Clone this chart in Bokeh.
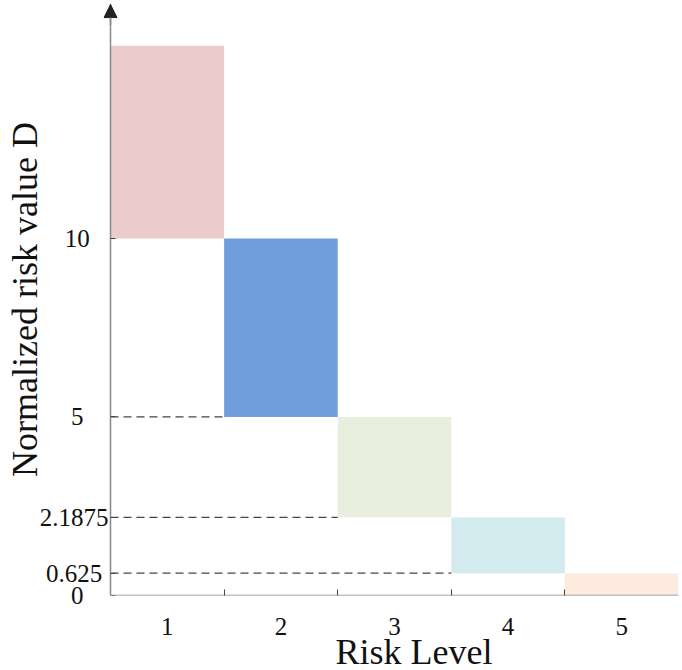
from bokeh.plotting import figure
from bokeh.models import FixedTicker, Range1d, Arrow, NormalHead, LinearAxis, Title, ColumnDataSource
from bokeh.embed import file_html
from bokeh.resources import INLINE

levels = [1, 2, 3, 4, 5]
lower = [10, 5, 2.1875, 0.625, 0]
upper = [15.4, 10, 5, 2.1875, 0.625]
colors = ["#EBCCCB", "#6F9EDB", "#EAEEDF", "#D3EAEE", "#FDEBDF"]
ytick_vals = [0, 0.625, 2.1875, 5, 10]
ytick_labels = ["0", "0.625", "2.1875", "5", "10"]
dash_levels = [5, 2.1875, 0.625]
dash_ends = [1.5, 2.5, 3.5]
y_top = 16.58

FONT = "Liberation Serif"
NB = "\u00a0"
pad = {"0": 4, "0.625": 1, "2.1875": 0, "5": 4, "10": 3}

x0 = levels[0] - 0.5
x1 = levels[-1] + 0.5
p = figure(width=682, height=670, output_backend="svg", toolbar_location=None,
           x_range=Range1d(x0 - 7 / 113.6, x1), y_range=Range1d(0, y_top),
           min_border_left=103, min_border_right=4, min_border_top=3, min_border_bottom=75)
p.outline_line_color = None
p.xgrid.grid_line_color = None
p.ygrid.grid_line_color = None

src = ColumnDataSource(dict(
    left=[l - 0.5 for l in levels], right=[l + 0.5 for l in levels],
    bottom=lower, top=upper, color=colors))
p.quad(left="left", right="right", bottom="bottom", top="top",
       fill_color="color", line_color=None, source=src)

for yv, xe in zip(dash_levels, dash_ends):
    p.line([x0, xe], [yv, yv], line_color="#444444", line_width=1.3, line_dash="8 5")

# x axis baseline from the y axis to the right end
p.segment(x0=[x0], y0=[0], x1=[x1], y1=[0], line_color="#888888", line_width=1.5)

# x axis (labels at level centres, ticks at level boundaries)
xa = p.xaxis[0]
xa.ticker = FixedTicker(ticks=levels, minor_ticks=[l + 0.5 for l in levels[:-1]])
xa.major_tick_line_color = None
xa.major_tick_out = 0
xa.major_tick_in = 0
xa.minor_tick_in = 6
xa.minor_tick_out = 0
xa.minor_tick_line_color = "#444444"
xa.axis_line_color = None
xa.major_label_text_font = FONT
xa.major_label_text_font_size = "25px"
xa.major_label_text_color = "#111111"
xa.major_label_standoff = 22

# left panel axis: tick labels and axis title only
ya = p.yaxis[0]
ya.ticker = FixedTicker(ticks=ytick_vals, minor_ticks=[])
ya.major_label_overrides = {v: s + NB * pad[s] for v, s in zip(ytick_vals, ytick_labels)}
ya.major_tick_line_color = None
ya.minor_tick_line_color = None
ya.major_tick_out = 0
ya.major_tick_in = 0
ya.minor_tick_out = 0
ya.minor_tick_in = 0
ya.axis_line_color = None
ya.major_label_text_font = FONT
ya.major_label_text_font_size = "25px"
ya.major_label_text_color = "#111111"
ya.major_label_standoff = -5
ya.axis_label = "Normalized risk value D"
ya.axis_label_text_font = FONT
ya.axis_label_text_font_size = "36px"
ya.axis_label_text_font_style = "normal"
ya.axis_label_text_color = "#111111"
ya.axis_label_standoff = -8

# y axis line with inward ticks, at x = x0
ya2 = LinearAxis(fixed_location=x0, ticker=FixedTicker(ticks=ytick_vals, minor_ticks=[]),
                 major_label_overrides={v: "" for v in ytick_vals},
                 major_label_text_font_size="0px", major_label_standoff=0,
                 axis_label_standoff=0,
                 major_tick_in=5, major_tick_out=0, major_tick_line_color="#444444",
                 minor_tick_line_color=None, minor_tick_in=0, minor_tick_out=0,
                 axis_line_color="#888888", axis_line_width=1.5)
p.left = [ya2] + list(p.left)

p.add_layout(Arrow(end=NormalHead(size=13, fill_color="#222222", line_color="#222222"),
                   x_start=x0, y_start=y_top - 0.6, x_end=x0, y_end=y_top - 0.03,
                   line_color="#888888", line_width=1.5))

p.add_layout(Title(text="Risk Level", align="left", offset=232, standoff=-16,
                   text_font=FONT, text_font_size="36px", text_font_style="normal",
                   text_color="#111111"), "below")

open("out.html", "w").write(file_html(p, INLINE))
